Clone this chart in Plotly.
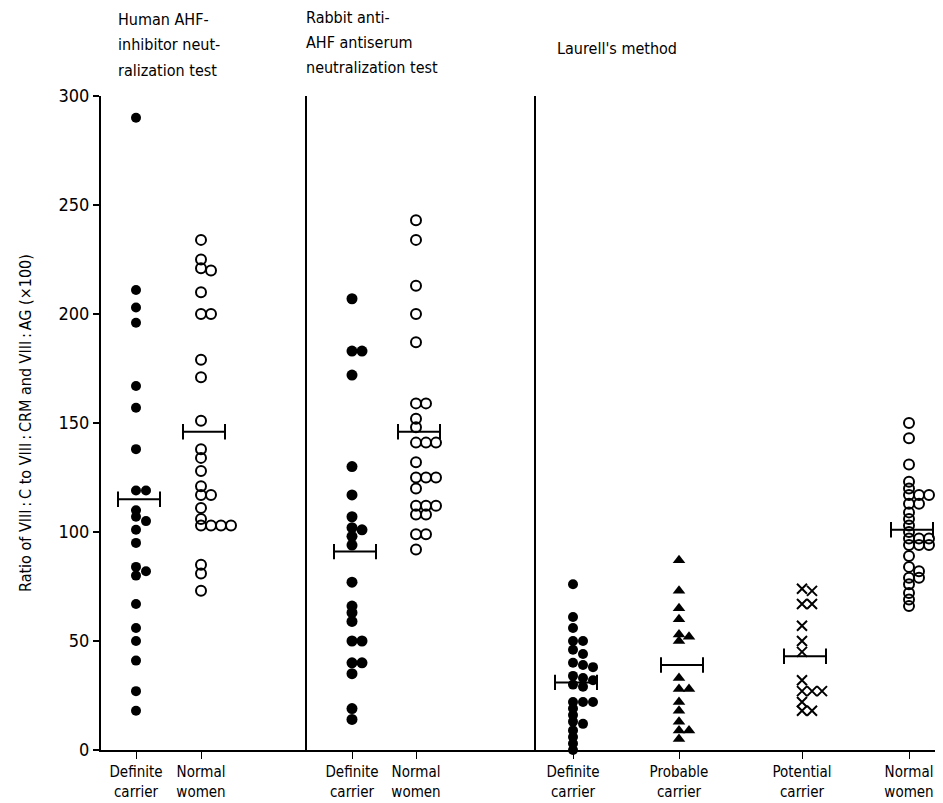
import plotly.graph_objects as go

# ---------------- data ----------------
human_definite = [290, 211, 203, 196, 167, 157, 138, 119, 119, 110, 107, 105, 101, 95,
                  84, 82, 80, 67, 56, 50, 41, 27, 18]
human_normal = [234, 225, 221, 220, 210, 200, 200, 179, 171, 151, 138, 134, 128, 121,
                117, 117, 111, 106, 103, 103, 103, 103, 85, 81, 73]
rabbit_definite = [207, 183, 183, 172, 130, 117, 107, 102, 101, 98, 94, 77, 66, 63, 59,
                   50, 50, 40, 40, 35, 19, 14]
rabbit_normal = [243, 234, 213, 200, 187, 159, 159, 152, 148, 141, 141, 141, 132, 125,
                 125, 125, 120, 112, 112, 112, 108, 108, 99, 99, 92]
laurell_definite = [76, 61, 56, 50, 50, 46, 44, 40, 39, 38, 34, 33, 32, 30, 29, 22, 22,
                    22, 19, 16, 13, 12, 9, 6, 3, 0]
laurell_probable = [87, 73, 65, 60, 53, 52, 50, 33, 28, 28, 22, 18, 13, 9, 9, 5]
laurell_potential = [74, 73, 67, 67, 57, 50, 45, 32, 27, 27, 27, 22, 18, 18]
laurell_normal = [150, 143, 131, 123, 120, 117, 117, 117, 113, 113, 109, 106, 103, 100,
                  97, 97, 97, 94, 94, 94, 89, 84, 82, 79, 79, 76, 72, 69, 66]
group_means = [115, 146, 91, 146, 31, 39, 43, 101]

group_labels = ["Definite<br>carrier", "Normal<br>women",
                "Definite<br>carrier", "Normal<br>women",
                "Definite<br>carrier", "Probable<br>carrier",
                "Potential<br>carrier", "Normal<br>women"]
method_titles = [
    ["Human AHF-", "inhibitor neut-", "ralization test"],
    ["Rabbit anti-", "AHF antiserum", "neutralization test"],
    ["Laurell's method"],
]
y_ticks = [0, 50, 100, 150, 200, 250, 300]
y_title = "Ratio of VIII\u2009:\u2009C to VIII\u2009:\u2009CRM and VIII\u2009:\u2009AG (\u00d7100)"

# ---------------- layout / style settings ----------------
W, H = 943, 803
ML, MR, MT, MB = 93, 0, 88, 61
PW, PH = W - ML - MR, H - MT - MB
XMAX = PW                    # 1 x-unit == 1 px
YMAX = 300
PX_PER_Y = PH / YMAX
group_pos = [35, 100, 251, 315, 472, 578, 701, 808]   # group centres on the x axis
divider_pos = [205, 434]
title_x = [15, 203, 454]
title_lines_y = [[12, 37, 62], [9, 34, 59], [40]]
FONT = "Liberation Sans Narrow, DejaVu Sans Condensed, Arial Narrow, sans-serif"

styles = [
    dict(symbol="circle", size=10, color="black"),
    dict(symbol="circle-open", size=10, color="black", line=dict(width=2, color="black")),
    dict(symbol="circle", size=11, color="black"),
    dict(symbol="circle-open", size=10, color="black", line=dict(width=2, color="black")),
    dict(symbol="circle", size=10, color="black"),
    dict(symbol="triangle-up", size=11, color="black"),
    dict(symbol="x-thin-open", size=10, color="black", line=dict(width=2, color="black")),
    dict(symbol="circle-open", size=10, color="black", line=dict(width=2, color="black")),
]
groups = [human_definite, human_normal, rabbit_definite, rabbit_normal,
          laurell_definite, laurell_probable, laurell_potential, laurell_normal]


def swarm(values, step=10.0, min_dy=5.0):
    """Place points in a column, shifting right when they would overlap."""
    placed = []
    offs = []
    for v in values:
        py = v * PX_PER_Y
        k = 0
        while True:
            dx = k * step
            clash = any(abs(dx - ox) < step * 0.9 and abs(py - oy) < min_dy
                        for ox, oy in placed)
            if not clash:
                break
            k += 1
        placed.append((dx, py))
        offs.append(dx)
    return offs


fig = go.Figure()

for vals, centre, st in zip(groups, group_pos, styles):
    offs = swarm(vals)
    fig.add_trace(go.Scatter(
        x=[centre + o for o in offs], y=vals, mode="markers",
        marker=st, cliponaxis=False, showlegend=False, hoverinfo="y"))

HALF = 21
for m, centre in zip(group_means, group_pos):
    fig.add_trace(go.Scatter(
        x=[centre + 3 - HALF, centre + 3 + HALF], y=[m, m], mode="lines+markers",
        line=dict(color="black", width=2),
        marker=dict(symbol="line-ns-open", size=11, color="black",
                    line=dict(width=2, color="black")),
        cliponaxis=False, showlegend=False, hoverinfo="skip"))

for xd in divider_pos:
    fig.add_shape(type="line", xref="x", yref="y", x0=xd, x1=xd, y0=0, y1=YMAX,
                  line=dict(color="black", width=2))

annotations = []
for tx, lines, ys in zip(title_x, method_titles, title_lines_y):
    for text, py in zip(lines, ys):
        annotations.append(dict(
            x=tx, y=(H - MB - py) / PH, xref="x", yref="paper", text=text,
            showarrow=False, xanchor="left", yanchor="middle",
            font=dict(family=FONT, size=16, color="black")))
annotations.append(dict(
    x=(17 - ML) / PW, y=0.5, xref="paper", yref="paper", text=y_title,
    textangle=-90, showarrow=False, xanchor="center", yanchor="middle",
    font=dict(family=FONT, size=16, color="black")))

fig.update_layout(
    width=W, height=H,
    margin=dict(l=ML, r=MR, t=MT, b=MB, pad=0),
    paper_bgcolor="white", plot_bgcolor="white",
    font=dict(family=FONT, size=16, color="black"),
    showlegend=False,
    annotations=annotations,
    xaxis=dict(range=[0, XMAX], showgrid=False, zeroline=False,
               showline=True, linecolor="black", linewidth=2,
               tickmode="array", tickvals=group_pos, ticktext=group_labels,
               ticks="outside", ticklen=7, tickwidth=1, tickcolor="black",
               tickfont=dict(family=FONT, size=15)),
    yaxis=dict(range=[0, YMAX], showgrid=False, zeroline=False,
               showline=True, linecolor="black", linewidth=2,
               tickmode="array", tickvals=y_ticks,
               ticks="outside", ticklen=6, tickwidth=2, tickcolor="black",
               tickfont=dict(family=FONT, size=18)),
)

fig.write_html("out.html")
